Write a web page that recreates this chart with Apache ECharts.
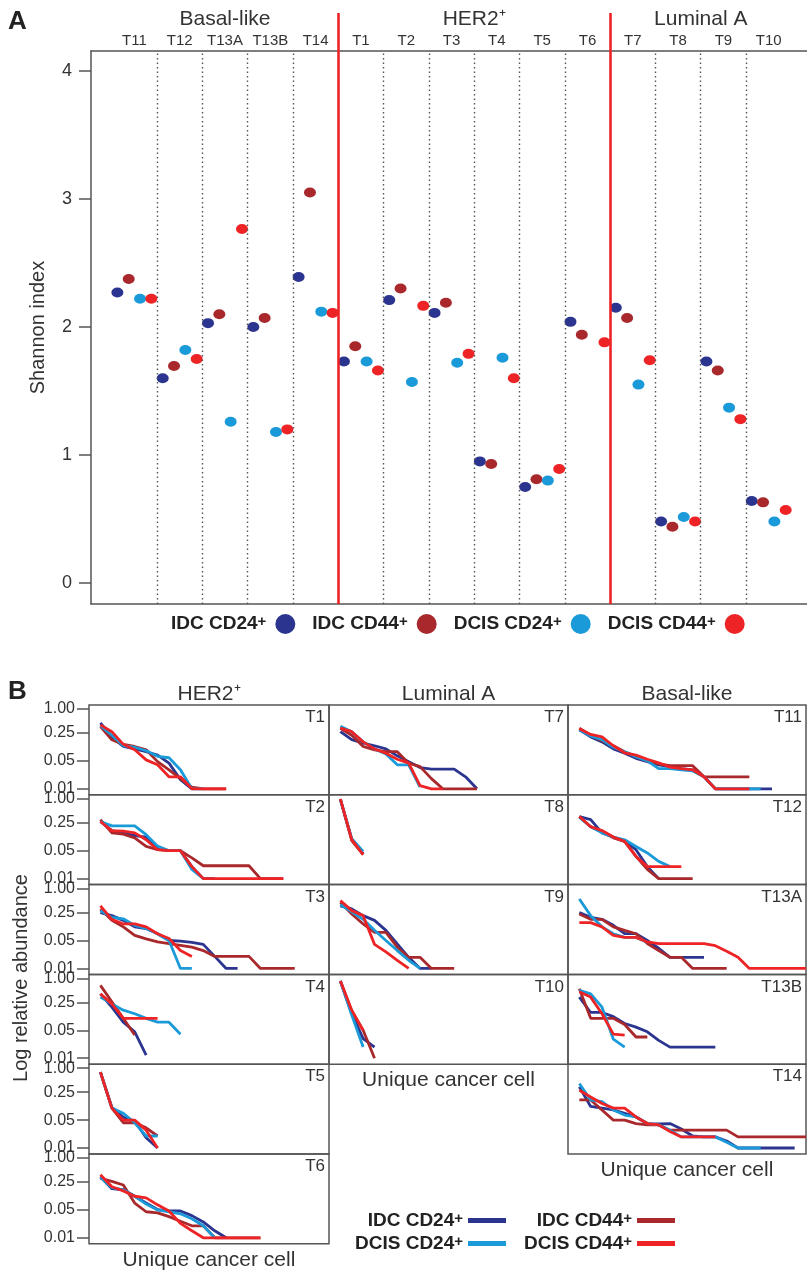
<!DOCTYPE html>
<html>
<head>
<meta charset="utf-8">
<script src="https://cdn.jsdelivr.net/npm/echarts@6/dist/echarts.min.js"></script>
<style>
html, body { margin: 0; padding: 0; background: #fff; }
#chart { width: 807px; height: 1272px; }
</style>
</head>
<body>
<div id="chart"></div>
<script>
// groups and colours
const groups = ['IDC CD24+', 'IDC CD44+', 'DCIS CD24+', 'DCIS CD44+'];
const colors = ['#2b3590', '#a8282c', '#1a9ad8', '#ee2326'];

// panel A : Shannon index per tumour
const tumorsA = ['T11', 'T12', 'T13A', 'T13B', 'T14', 'T1', 'T2', 'T3', 'T4', 'T5', 'T6', 'T7', 'T8', 'T9', 'T10'];
const subtypes = ['Basal-like', 'HER2⁺', 'Luminal A'];
const subtypeCounts = [5, 6, 4];
const idc24A  = [2.27, 1.60, 2.03, 2.00, 2.39, 1.73, 2.21, 2.11, 0.95, 0.75, 2.04, 2.15, 0.48, 1.73, 0.64];
const idc44A  = [2.375, 1.695, 2.10, 2.07, 3.05, 1.85, 2.30, 2.19, 0.93, 0.81, 1.94, 2.07, 0.44, 1.66, 0.63];
const dcis24A = [2.22, 1.82, 1.26, 1.18, 2.12, 1.73, 1.57, 1.72, 1.76, 0.80, null, 1.55, 0.515, 1.37, 0.48];
const dcis44A = [2.22, 1.75, 2.765, 1.20, 2.11, 1.66, 2.165, 1.79, 1.60, 0.89, 1.88, 1.74, 0.48, 1.28, 0.57];
const shannonTicks = [0, 1, 2, 3, 4];

// panel B : relative abundance of unique cancer cells, rank ordered
// each tumour: [IDC CD24+, IDC CD44+, DCIS CD24+, DCIS CD44+]
const T1 = [
  [0.45, 0.2, 0.115, 0.1, 0.085, 0.07, 0.044, 0.017, 0.01],
  [0.36, 0.17, 0.13, 0.115, 0.095, 0.048, 0.03, 0.018, 0.011, 0.01, 0.01, 0.01],
  [0.38, 0.22, 0.12, 0.11, 0.09, 0.065, 0.06, 0.03, 0.01, 0.01],
  [0.4, 0.27, 0.13, 0.095, 0.053, 0.04, 0.02, 0.02, 0.01, 0.01, 0.01, 0.01]];
const T2 = [
  [0.27, 0.16, 0.14, 0.12, 0.11, 0.058, 0.05, 0.05, 0.02, 0.01, 0.01],
  [0.3, 0.14, 0.13, 0.105, 0.064, 0.053, 0.05, 0.05, 0.033, 0.021, 0.021, 0.021, 0.021, 0.021, 0.01, 0.01, 0.01],
  [0.27, 0.21, 0.21, 0.21, 0.126, 0.065, 0.05, 0.05, 0.017, 0.01],
  [0.27, 0.16, 0.155, 0.14, 0.094, 0.053, 0.05, 0.05, 0.02, 0.01, 0.01, 0.01, 0.01, 0.01, 0.01, 0.01, 0.01]];
const T3 = [
  [0.25, 0.21, 0.16, 0.11, 0.1, 0.074, 0.05, 0.048, 0.045, 0.04, 0.02, 0.01, 0.01],
  [0.31, 0.16, 0.11, 0.067, 0.055, 0.046, 0.042, 0.038, 0.034, 0.028, 0.02, 0.02, 0.02, 0.02, 0.01, 0.01, 0.01, 0.01],
  [0.28, 0.19, 0.175, 0.12, 0.1, 0.074, 0.05, 0.01, 0.01],
  [0.37, 0.17, 0.13, 0.13, 0.11, 0.074, 0.056, 0.028, 0.02]];
const T4 = [
  [0.41, 0.19, 0.08, 0.046, 0.012],
  [0.67, 0.26, 0.1, 0.038],
  [0.34, 0.23, 0.16, 0.13, 0.1, 0.08, 0.08, 0.04],
  [0.41, 0.23, 0.1, 0.1, 0.1, 0.1]];
const T5 = [
  [0.8, 0.105, 0.059, 0.047, 0.018, 0.01],
  [0.8, 0.1, 0.043, 0.043, 0.032, 0.02],
  [0.8, 0.1, 0.074, 0.043, 0.02, 0.02],
  [0.8, 0.1, 0.05, 0.05, 0.028, 0.01]];
const T6 = [
  [0.34, 0.17, 0.16, 0.11, 0.075, 0.051, 0.047, 0.047, 0.036, 0.025, 0.015, 0.01],
  [0.31, 0.26, 0.21, 0.074, 0.045, 0.042, 0.034, 0.026, 0.02, 0.02, 0.01, 0.01, 0.01, 0.01, 0.01],
  [0.33, 0.18, 0.16, 0.11, 0.07, 0.05, 0.045, 0.04, 0.03, 0.02, 0.01],
  [0.38, 0.19, 0.15, 0.11, 0.1, 0.067, 0.047, 0.023, 0.015, 0.01, 0.01, 0.01, 0.01, 0.01, 0.01]];
const T7 = [
  [0.27, 0.17, 0.14, 0.12, 0.1, 0.067, 0.048, 0.034, 0.031, 0.031, 0.031, 0.02, 0.01],
  [0.33, 0.22, 0.115, 0.095, 0.085, 0.085, 0.044, 0.036, 0.018, 0.01, 0.01, 0.01, 0.01],
  [0.37, 0.27, 0.15, 0.1, 0.075, 0.04, 0.04, 0.011],
  [0.33, 0.27, 0.15, 0.1, 0.078, 0.055, 0.044, 0.012, 0.01, 0.01]];
const T8 = [
  [0.97, 0.095, 0.042],
  [0.97, 0.09, 0.04],
  [0.97, 0.1, 0.048],
  [1.0, 0.095, 0.04]];
const T9 = [
  [0.37, 0.31, 0.21, 0.16, 0.09, 0.041, 0.019, 0.01, 0.01],
  [0.45, 0.23, 0.13, 0.08, 0.08, 0.034, 0.019, 0.019, 0.01, 0.01, 0.01],
  [0.4, 0.26, 0.17, 0.09, 0.05, 0.028, 0.016, 0.01],
  [0.5, 0.28, 0.21, 0.04, 0.026, 0.016, 0.01]];
const T10 = [
  [0.86, 0.13, 0.031, 0.019],
  [0.86, 0.15, 0.05, 0.01],
  [0.86, 0.12, 0.019],
  [0.86, 0.16, 0.05]];
const T11 = [
  [0.3, 0.2, 0.15, 0.1, 0.078, 0.058, 0.048, 0.04, 0.036, 0.032, 0.03, 0.02, 0.01, 0.01, 0.01, 0.01, 0.01, 0.01],
  [0.33, 0.22, 0.16, 0.12, 0.085, 0.065, 0.05, 0.042, 0.038, 0.038, 0.038, 0.02, 0.02, 0.02, 0.02, 0.02],
  [0.3, 0.21, 0.17, 0.11, 0.085, 0.064, 0.05, 0.032, 0.032, 0.03, 0.028, 0.02, 0.01, 0.01, 0.01, 0.01, 0.01],
  [0.32, 0.23, 0.2, 0.12, 0.08, 0.07, 0.055, 0.045, 0.035, 0.032, 0.03, 0.02, 0.01, 0.01, 0.01, 0.01]];
const T12 = [
  [0.36, 0.3, 0.14, 0.11, 0.086, 0.053, 0.02, 0.01],
  [0.36, 0.2, 0.15, 0.105, 0.086, 0.036, 0.017, 0.01, 0.01, 0.01, 0.01],
  [0.34, 0.2, 0.14, 0.11, 0.094, 0.064, 0.044, 0.027, 0.02],
  [0.36, 0.2, 0.16, 0.11, 0.086, 0.036, 0.02, 0.02, 0.02, 0.02]];
const T13A = [
  [0.25, 0.19, 0.17, 0.12, 0.074, 0.074, 0.05, 0.032, 0.019, 0.019, 0.019, 0.019],
  [0.23, 0.17, 0.17, 0.11, 0.09, 0.074, 0.042, 0.028, 0.019, 0.019, 0.01, 0.01, 0.01, 0.01],
  [0.55, 0.21, 0.11, 0.074, 0.06, 0.06, 0.045],
  [0.14, 0.14, 0.11, 0.067, 0.06, 0.06, 0.046, 0.042, 0.042, 0.042, 0.042, 0.042, 0.037, 0.027, 0.019, 0.01, 0.01, 0.01, 0.01, 0.01, 0.01]];
const T13B = [
  [0.34, 0.14, 0.14, 0.11, 0.074, 0.06, 0.046, 0.028, 0.019, 0.019, 0.019, 0.019, 0.019],
  [0.55, 0.1, 0.1, 0.1, 0.07, 0.034, 0.034],
  [0.5, 0.41, 0.19, 0.03, 0.019],
  [0.46, 0.34, 0.13, 0.04, 0.038]];
const T14 = [
  [0.34, 0.11, 0.1, 0.09, 0.074, 0.06, 0.041, 0.04, 0.041, 0.03, 0.02, 0.019, 0.019, 0.015, 0.01, 0.01, 0.01, 0.01, 0.01, 0.01],
  [0.16, 0.16, 0.09, 0.05, 0.05, 0.041, 0.038, 0.038, 0.028, 0.028, 0.028, 0.028, 0.028, 0.028, 0.019, 0.019, 0.019, 0.019, 0.019, 0.019, 0.019],
  [0.41, 0.16, 0.145, 0.09, 0.067, 0.06, 0.041, 0.038, 0.028, 0.019, 0.019, 0.019, 0.019, 0.014, 0.01, 0.01, 0.01],
  [0.28, 0.19, 0.13, 0.1, 0.1, 0.06, 0.041, 0.038, 0.026, 0.019, 0.019, 0.019, 0.019]];

const columnTitles = ['HER2⁺', 'Luminal A', 'Basal-like'];
const columnNames = [['T1', 'T2', 'T3', 'T4', 'T5', 'T6'], ['T7', 'T8', 'T9', 'T10'], ['T11', 'T12', 'T13A', 'T13B', 'T14']];
const columnData = [[T1, T2, T3, T4, T5, T6], [T7, T8, T9, T10], [T11, T12, T13A, T13B, T14]];
const abundanceTicks = [1, 0.25, 0.05, 0.01];

const FONT = 'Liberation Sans, Arial, sans-serif';
const TXT = '#333';
const FRAME = '#555';

window.onload = function () {
  const chart = echarts.init(document.getElementById('chart'));

  const grids = [], xAxes = [], yAxes = [], series = [], graphics = [];

  // ---- panel A ----
  const xMin = -1.83, xMax = 61.38;
  const splits = []; // subtype boundaries
  let acc = 0;
  const subtypeCenters = subtypeCounts.map(n => { const c = (acc + n / 2) * 4; acc += n; splits.push(acc * 4); return c; });
  const dotted = [];
  for (let i = 1; i < tumorsA.length; i++) if (splits.indexOf(i * 4) < 0) dotted.push({ xAxis: i * 4 });

  grids.push({ left: 91, top: 51, width: 716, height: 553 });
  xAxes.push({ gridIndex: 0, type: 'value', min: xMin, max: xMax,
    axisLine: { onZero: false, lineStyle: { color: FRAME, width: 1.5 } }, axisTick: { show: false }, axisLabel: { show: false }, splitLine: { show: false } });
  xAxes.push({ gridIndex: 0, type: 'value', position: 'top', min: xMin, max: xMax,
    axisLine: { onZero: false, lineStyle: { color: FRAME, width: 1.5 } }, axisTick: { show: false }, splitLine: { show: false },
    axisLabel: { customValues: tumorsA.map((t, i) => i * 4 + 2), formatter: v => tumorsA[Math.round((v - 2) / 4)],
      fontSize: 15, color: TXT, margin: 3, fontFamily: FONT } });
  xAxes.push({ gridIndex: 0, type: 'value', position: 'top', min: xMin, max: xMax,
    axisLine: { show: false, onZero: false }, axisTick: { show: false }, splitLine: { show: false },
    axisLabel: { customValues: subtypeCenters, formatter: v => subtypes[subtypeCenters.indexOf(v)],
      fontSize: 21, color: TXT, margin: 21, fontFamily: FONT } });
  yAxes.push({ gridIndex: 0, type: 'value', min: -0.164, max: 4.156,
    name: 'Shannon index', nameLocation: 'middle', nameGap: 43,
    nameTextStyle: { fontSize: 20, color: TXT, fontFamily: FONT },
    axisLine: { show: true, onZero: false, lineStyle: { color: FRAME, width: 1.5 } },
    axisTick: { show: true, length: 12, customValues: shannonTicks, lineStyle: { color: FRAME, width: 1.5 } },
    axisLabel: { customValues: shannonTicks, fontSize: 18, color: TXT, margin: 19, fontFamily: FONT },
    splitLine: { show: false } });

  const valsA = [idc24A, idc44A, dcis24A, dcis44A];
  groups.forEach((g, j) => {
    const s = { type: 'scatter', name: g, xAxisIndex: 0, yAxisIndex: 0, symbol: 'circle', symbolSize: [12, 10],
      itemStyle: { color: colors[j], opacity: 1 }, z: 4,
      data: valsA[j].map((v, i) => v == null ? null : [i * 4 + j + 0.5, v]).filter(d => d) };
    if (j === 0) {
      s.markLine = { silent: true, symbol: ['none', 'none'], label: { show: false }, animation: false,
        lineStyle: { type: [1.5, 3], color: '#555', width: 1.4 }, data: dotted };
    }
    series.push(s);
  });

  // red subtype separators, taller than the frame
  grids.push({ left: 91, top: 13, width: 716, height: 591 });
  xAxes.push({ gridIndex: 1, type: 'value', min: xMin, max: xMax, show: false });
  yAxes.push({ gridIndex: 1, type: 'value', min: 0, max: 1, show: false });
  series.push({ type: 'line', xAxisIndex: 3, yAxisIndex: 1, data: [], silent: true,
    markLine: { silent: true, symbol: ['none', 'none'], label: { show: false }, animation: false,
      lineStyle: { type: 'solid', color: '#ee2326', width: 2.6 },
      data: splits.slice(0, -1).map(v => ({ xAxis: v })) } });

  // ---- panel B ----
  const colLeft = [89, 329, 568], colWidth = [240, 239, 238];
  const rowTop = 705, rowH = 89.8;
  const logTicks = abundanceTicks.map(v => Math.log10(v));
  let gi = 2;
  columnNames.forEach((col, c) => {
    col.forEach((name, r) => {
      const top = rowTop + r * rowH;
      const last = r === col.length - 1;
      grids.push({ left: colLeft[c], top: top, width: colWidth[c], height: rowH, show: true,
        borderColor: FRAME, borderWidth: 1.5, backgroundColor: 'transparent' });
      xAxes.push({ gridIndex: gi, type: 'value', min: 0, max: 21, show: last,
        axisLine: { show: false, onZero: false }, axisTick: { show: false }, axisLabel: { show: false }, splitLine: { show: false },
        name: last ? 'Unique cancer cell' : '', nameLocation: 'middle', nameGap: 6,
        nameTextStyle: { fontSize: 21, color: TXT, fontFamily: FONT } });
      yAxes.push({ gridIndex: gi, type: 'value', min: -2.15, max: 0.1, show: c === 0,
        axisLine: { show: false, onZero: false },
        axisTick: { show: true, length: 12, customValues: logTicks, lineStyle: { color: FRAME, width: 1.5 } },
        axisLabel: { customValues: logTicks, formatter: v => Math.pow(10, v).toFixed(2),
          fontSize: 16, color: TXT, margin: 14, fontFamily: FONT },
        splitLine: { show: false } });
      columnData[c][r].forEach((vals, j) => {
        series.push({ type: 'line', name: groups[j], xAxisIndex: xAxes.length - 1, yAxisIndex: yAxes.length - 1,
          data: vals.map((v, k) => [k + 1, Math.log10(v)]), showSymbol: false, symbol: 'none',
          lineStyle: { color: colors[j], width: 2.8 }, itemStyle: { color: colors[j] }, z: 3 });
      });
      graphics.push({ type: 'text', x: colLeft[c] + colWidth[c] - 4, y: top + 4,
        style: { text: name, align: 'right', verticalAlign: 'top', fontSize: 17, fontFamily: FONT, fill: TXT } });
      gi++;
    });
    graphics.push({ type: 'text', x: colLeft[c] + colWidth[c] / 2, y: 694,
      style: { text: columnTitles[c], align: 'center', verticalAlign: 'middle', fontSize: 21, fontFamily: FONT, fill: TXT } });
  });

  graphics.push({ type: 'text', x: 8, y: 9, style: { text: 'A', fontSize: 26, fontWeight: 'bold', fontFamily: FONT, fill: '#222' } });
  graphics.push({ type: 'text', x: 8, y: 679, style: { text: 'B', fontSize: 26, fontWeight: 'bold', fontFamily: FONT, fill: '#222' } });
  graphics.push({ type: 'text', x: 21, y: 978, rotation: Math.PI / 2,
    style: { text: 'Log relative abundance', align: 'center', verticalAlign: 'middle', fontSize: 20, fontFamily: FONT, fill: TXT } });

  const legFmt = n => '{b|' + n.slice(0, -1) + '}{p|+}';
  const legText = pad => ({ fontFamily: FONT, fontSize: 19, fontWeight: 'bold', color: '#222', padding: [0, pad, 0, 0],
    rich: { b: { fontSize: 19, fontWeight: 'bold', color: '#222', fontFamily: FONT },
            p: { fontSize: 15, fontWeight: 'bold', color: '#222', fontFamily: FONT, verticalAlign: 'top', lineHeight: 12 } } });

  const option = {
    animation: false,
    textStyle: { fontFamily: FONT },
    grid: grids,
    xAxis: xAxes,
    yAxis: yAxes,
    legend: [
      { data: groups.map(g => ({ name: g, icon: 'circle' })), left: 166, top: 609, orient: 'horizontal', align: 'right',
        itemWidth: 20, itemHeight: 20, itemGap: 17, formatter: legFmt, textStyle: legText(4), selectedMode: false },
      { data: [groups[0], groups[2]].map(g => ({ name: g, icon: 'rect' })), left: 350, top: 1206, orient: 'vertical', align: 'right',
        itemWidth: 38, itemHeight: 5, itemGap: 4, formatter: legFmt, textStyle: legText(0), selectedMode: false },
      { data: [groups[1], groups[3]].map(g => ({ name: g, icon: 'rect' })), left: 519, top: 1206, orient: 'vertical', align: 'right',
        itemWidth: 38, itemHeight: 5, itemGap: 4, formatter: legFmt, textStyle: legText(0), selectedMode: false }
    ],
    graphic: graphics,
    series: series
  };
  chart.setOption(option);
};
</script>
</body>
</html>
